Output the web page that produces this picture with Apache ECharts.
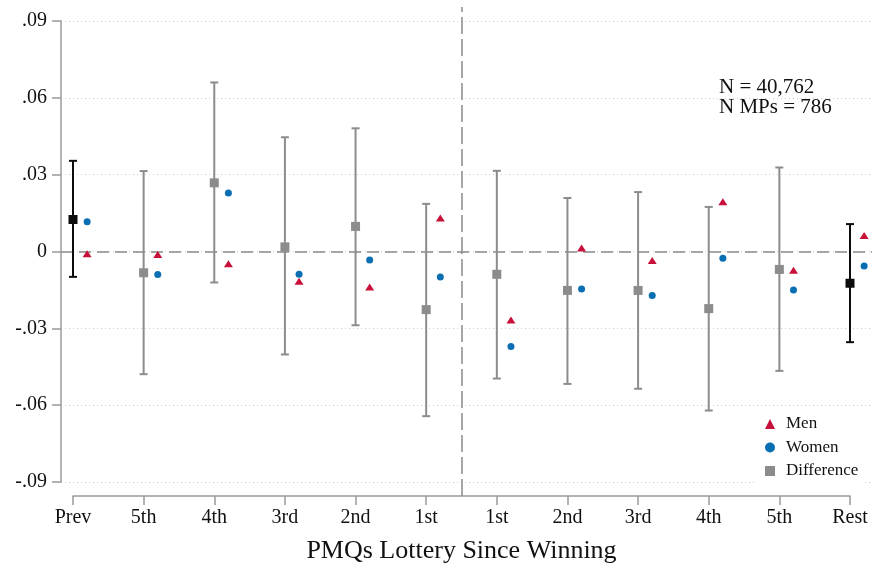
<!DOCTYPE html>
<html>
<head>
<meta charset="utf-8">
<script src="https://cdn.jsdelivr.net/npm/echarts@6/dist/echarts.min.js"></script>
<style>
  html, body { margin: 0; padding: 0; background: #fff; }
  #chart { width: 872px; height: 569px; }
</style>
</head>
<body>
<div id="chart"></div>
<script>
// Lottery draws relative to winning, with pooled "Prev" and "Rest" at the ends
const categories = ['Prev', '5th', '4th', '3rd', '2nd', '1st', '1st', '2nd', '3rd', '4th', '5th', 'Rest'];

// Point estimates
const menValues   = [-0.0009, -0.0012, -0.0048, -0.0116, -0.0139, 0.0131, -0.0267, 0.0014, -0.0035, 0.0194, -0.0073, 0.0062];
const womenValues = [0.0116, -0.0090, 0.0228, -0.0089, -0.0033, -0.0100, -0.0371, -0.0146, -0.0172, -0.0026, -0.0150, -0.0057];
const diffValues  = [0.0125, -0.0083, 0.0268, 0.0018, 0.0098, -0.0227, -0.0089, -0.0152, -0.0152, -0.0223, -0.0070, -0.0124];

// Confidence interval of the difference
const diffLower = [-0.0099, -0.0479, -0.0121, -0.0402, -0.0288, -0.0643, -0.0496, -0.0517, -0.0536, -0.0621, -0.0466, -0.0354];
const diffUpper = [0.0354, 0.0314, 0.0660, 0.0446, 0.0481, 0.0186, 0.0315, 0.0209, 0.0232, 0.0174, 0.0328, 0.0107];

// Pooled periods are drawn in black
const pooled = [true, false, false, false, false, false, false, false, false, false, false, true];

// Y axis ticks
const yMin = -0.09, yMax = 0.09, yStep = 0.03;

// Winning occurs between the two "1st" draws
const dividerAt = 6.5;

const noteText = 'N = 40,762\nN MPs = 786';
const xTitle = 'PMQs Lottery Since Winning';

// ---- layout ----
const W = 872, H = 569;
const PLOT_LEFT = 61, PLOT_TOP = 21, PLOT_BOTTOM = 482;
const AXIS_START = 73, AXIS_END = 850, AXIS_Y = 496, DIVIDER_TOP = 7;
const DODGE = 0.2;
const n = categories.length;
const pxPerUnit = (AXIS_END - AXIS_START) / (n - 1);
const xMin = 1 - (AXIS_START - PLOT_LEFT) / pxPerUnit;
const xMax = n + (W - AXIS_END) / pxPerUnit;

const FONT = '"Liberation Serif", "Times New Roman", serif';
const AXIS_GRAY = '#9b9b9b';
const DIFF_GRAY = '#8c8c8c';
const BLACK = '#0d0d0d';
const MEN_RED = '#c8103a';
const WOMEN_BLUE = '#0a6fb2';

function fmtY(v) {
  if (Math.abs(v) < 1e-9) return '0';
  const s = Math.abs(v).toFixed(2).replace(/^0/, '');
  return (v < 0 ? '-' : '') + s;
}

const menData = menValues.map((v, i) => [i + 1 + DODGE, v]);
const womenData = womenValues.map((v, i) => [i + 1 + DODGE, v]);
const diffData = diffValues.map((v, i) => ({
  value: [i + 1, v],
  itemStyle: { color: pooled[i] ? BLACK : DIFF_GRAY }
}));
const ciData = diffLower.map((lo, i) => ({
  value: [i + 1, lo, diffUpper[i]],
  itemStyle: { color: pooled[i] ? BLACK : DIFF_GRAY }
}));

const chart = echarts.init(document.getElementById('chart'), null, { renderer: 'canvas' });

chart.setOption({
  animation: false,
  backgroundColor: '#ffffff',
  textStyle: { fontFamily: FONT },
  title: {
    text: noteText,
    left: 719,
    top: 77,
    padding: 0,
    textStyle: { fontFamily: FONT, fontSize: 21, lineHeight: 20, fontWeight: 'normal', color: '#111' }
  },
  legend: {
    orient: 'vertical',
    left: 757,
    top: 411,
    padding: [4, 6, 4, 8],
    backgroundColor: '#ffffff',
    itemWidth: 10,
    itemHeight: 10,
    itemGap: 5.5,
    textStyle: { fontFamily: FONT, fontSize: 17, lineHeight: 18, color: '#111', padding: [0, 0, 0, 6] },
    data: [
      { name: 'Men', icon: 'triangle' },
      { name: 'Women', icon: 'circle' },
      { name: 'Difference', icon: 'rect' }
    ]
  },
  grid: [
    { left: PLOT_LEFT, right: 0, top: PLOT_TOP, bottom: H - PLOT_BOTTOM },
    { left: AXIS_START, right: W - AXIS_END, top: DIVIDER_TOP, bottom: H - AXIS_Y }
  ],
  xAxis: [
    {
      gridIndex: 0, type: 'value', min: xMin, max: xMax, show: false, splitLine: { show: false }
    },
    {
      gridIndex: 1, type: 'value', min: 1, max: n, interval: 1,
      name: xTitle, nameLocation: 'middle', nameGap: 42,
      nameTextStyle: { fontFamily: FONT, fontSize: 26, color: '#111' },
      axisLine: { show: true, lineStyle: { color: AXIS_GRAY, width: 1.5 } },
      axisTick: { show: true, length: 9, lineStyle: { color: AXIS_GRAY, width: 1.5 } },
      axisLabel: {
        margin: 12, fontFamily: FONT, fontSize: 20, color: '#111',
        formatter: v => categories[Math.round(v) - 1] || ''
      },
      splitLine: { show: false }
    }
  ],
  yAxis: [
    {
      gridIndex: 0, type: 'value', min: yMin, max: yMax, interval: yStep,
      axisLine: { show: true, lineStyle: { color: AXIS_GRAY, width: 1.5 } },
      axisTick: { show: true, length: 9, lineStyle: { color: AXIS_GRAY, width: 1.5 } },
      axisLabel: { margin: 14, fontFamily: FONT, fontSize: 20, color: '#111', formatter: fmtY },
      splitLine: { show: true, lineStyle: { color: '#cfcfcf', width: 1, type: [1, 3] } }
    },
    {
      gridIndex: 1, type: 'value', min: 0, max: 1, show: false, splitLine: { show: false }
    }
  ],
  series: [
    {
      name: 'DifferenceCI',
      type: 'custom',
      xAxisIndex: 0, yAxisIndex: 0,
      silent: true,
      z: 2,
      data: ciData,
      renderItem: function (params, api) {
        const x = api.value(0);
        const top = api.coord([x, api.value(2)]);
        const bot = api.coord([x, api.value(1)]);
        const color = api.visual('color');
        const half = 4;
        const style = { stroke: color, lineWidth: 2 };
        return {
          type: 'group',
          children: [
            { type: 'line', shape: { x1: top[0], y1: top[1], x2: bot[0], y2: bot[1] }, style: style },
            { type: 'line', shape: { x1: top[0] - half, y1: top[1], x2: top[0] + half, y2: top[1] }, style: style },
            { type: 'line', shape: { x1: bot[0] - half, y1: bot[1], x2: bot[0] + half, y2: bot[1] }, style: style }
          ]
        };
      }
    },
    {
      name: 'Difference',
      type: 'scatter',
      xAxisIndex: 0, yAxisIndex: 0,
      symbol: 'rect',
      symbolSize: 9,
      z: 3,
      itemStyle: { color: DIFF_GRAY, opacity: 1 },
      data: diffData,
      markLine: {
        silent: true,
        symbol: 'none',
        label: { show: false },
        lineStyle: { color: '#8a8a8a', width: 1.5, type: [12, 6] },
        data: [{ yAxis: 0 }],
        z: 1
      }
    },
    {
      name: 'Men',
      type: 'scatter',
      xAxisIndex: 0, yAxisIndex: 0,
      symbol: 'triangle',
      symbolSize: [9, 7],
      z: 3,
      itemStyle: { color: MEN_RED, opacity: 1 },
      data: menData
    },
    {
      name: 'Women',
      type: 'scatter',
      xAxisIndex: 0, yAxisIndex: 0,
      symbol: 'circle',
      symbolSize: 7,
      z: 3,
      itemStyle: { color: WOMEN_BLUE, opacity: 1 },
      data: womenData
    },
    {
      name: 'Divider',
      type: 'scatter',
      xAxisIndex: 1, yAxisIndex: 1,
      data: [],
      silent: true,
      markLine: {
        silent: true,
        symbol: 'none',
        label: { show: false },
        lineStyle: { color: '#8a8a8a', width: 1.5, type: [17, 5] },
        data: [{ xAxis: dividerAt }]
      }
    }
  ]
});
</script>
</body>
</html>
